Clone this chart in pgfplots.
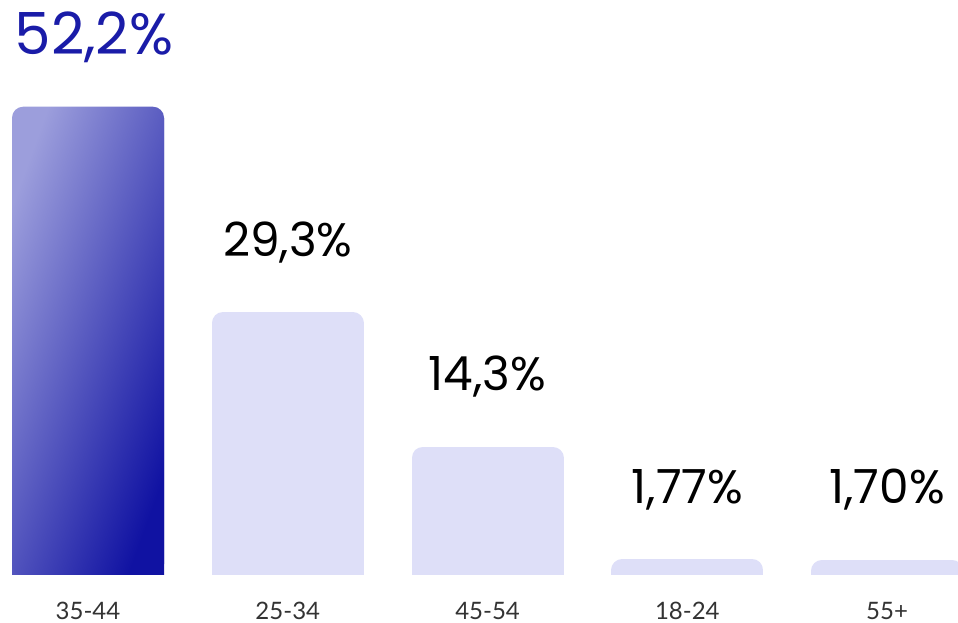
\documentclass[border=0pt]{standalone}
\usepackage{fontspec}
\setmainfont{Lato}
\newfontfamily\valfont{Poppins}
\usepackage{pgfplots}
\pgfplotsset{compat=1.18}
\definecolor{barlight}{HTML}{DEDFF8}
\definecolor{gradtop}{HTML}{9C9EDC}
\definecolor{gradbot}{HTML}{1012A2}
\definecolor{labblue}{HTML}{1A1CA8}
\definecolor{ticktext}{HTML}{333333}
\begin{document}
\begin{tikzpicture}
\useasboundingbox (0pt,-48pt) rectangle (958pt,575pt);
\begin{axis}[
  at={(0pt,0pt)}, anchor=south west,
  scale only axis, width=958pt, height=575pt,
  xmin=-0.4406, xmax=4.355, ymin=0, ymax=64.1,
  axis line style={draw=none},
  tick style={draw=none},
  ytick=\empty,
  xtick={0,1,2,3,4},
  xticklabels={35-44,25-34,45-54,18-24,55+},
  xticklabel style={anchor=base, yshift=-40pt, font=\fontsize{24}{24}\selectfont, text=ticktext},
  ybar,
]
% gradient bar: square-cornered copy shifted down, under a rounded copy
\addplot[ybar, bar width=152pt, bar shift=0pt, draw=none, yshift=-12pt,
  top color=gradtop, bottom color=gradbot, shading angle=70]
  coordinates {(0,52.2)};
\addplot[ybar, bar width=152pt, bar shift=0pt, draw=none,
  top color=gradtop, bottom color=gradbot, shading angle=70,
  rounded corners=11pt,
  point meta=explicit symbolic, nodes near coords,
  every node near coord/.append style={anchor=base, yshift=52pt, xshift=6pt, font=\valfont\fontsize{58}{58}\selectfont, text=labblue}]
  coordinates {(0,52.2) [52,2\%]};
\addplot[ybar, bar width=130pt, bar shift=0pt, yshift=-11pt,
  fill=barlight, draw=barlight, line width=22pt, line join=round,
  point meta=explicit symbolic, nodes near coords,
  every node near coord/.append style={anchor=base, yshift=67pt, font=\valfont\fontsize{47}{47}\selectfont, text=black}]
  coordinates {(1,29.3) [29,3\%] (2,14.3) [14,3\%] (3,1.77) [1,77\%] (4,1.70) [1,70\%]};
\end{axis}
\end{tikzpicture}
\end{document}
